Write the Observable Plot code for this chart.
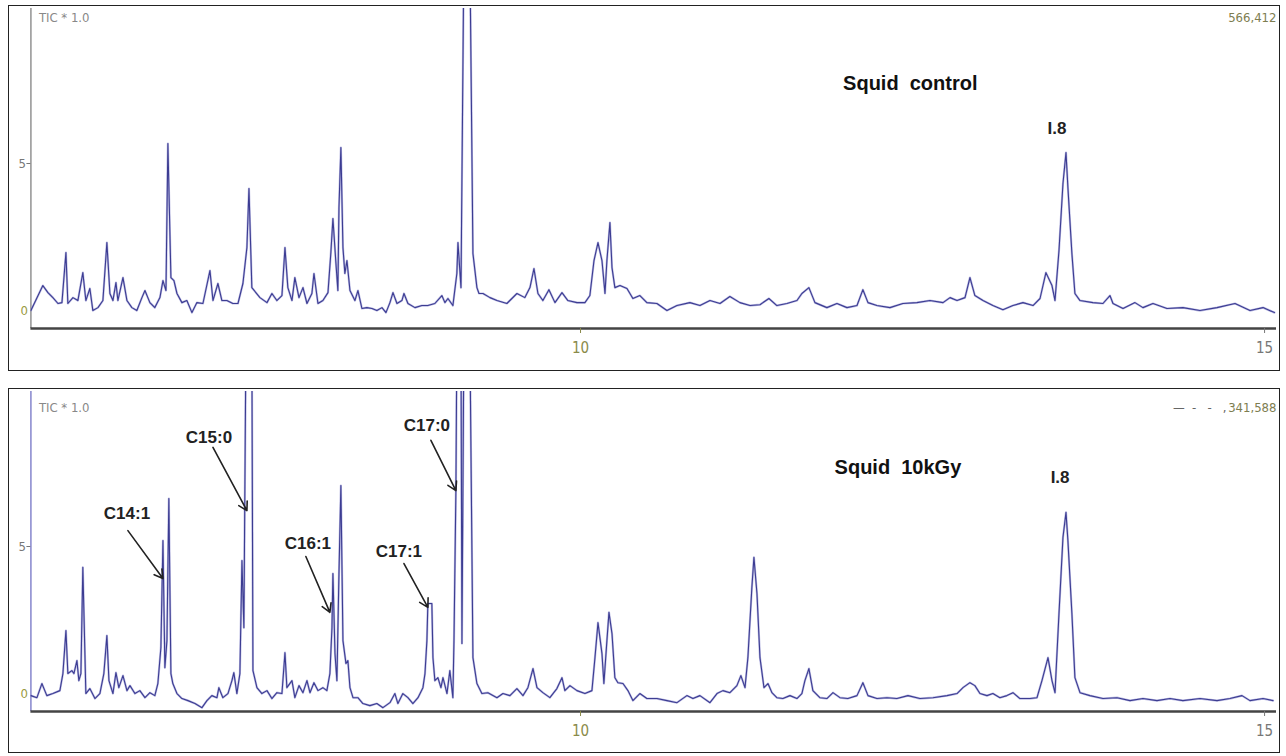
<!DOCTYPE html>
<html><head><meta charset="utf-8">
<script src="https://cdn.jsdelivr.net/npm/d3@7"></script>
<script src="https://cdn.jsdelivr.net/npm/@observablehq/plot@0.6"></script>
<style>
body{margin:0;background:#fff;width:1286px;height:756px;position:relative;overflow:hidden;font-family:"Liberation Sans",Arial,sans-serif}
.panel{position:absolute;left:8px;width:1270px;border:1px solid #222;overflow:hidden;background:#fff}
#p1{top:5px;height:364px}
#p2{top:388px;height:363px}
.panel svg{display:block}
</style></head><body>
<div class="panel" id="p1"></div><div class="panel" id="p2"></div>
<script>
// Retention time (min) and TIC intensity
const controlTrace = [
[6.00,0.00],[6.087,0.85],[6.124,0.61],[6.160,0.44],[6.197,0.24],[6.226,0.27],[6.255,1.97],[6.269,0.24],[6.306,0.44],[6.342,0.34],
[6.378,1.29],[6.400,0.34],[6.429,0.75],[6.451,0.00],[6.488,0.10],[6.524,0.34],[6.553,2.31],[6.575,0.58],[6.597,0.34],[6.619,0.95],
[6.633,0.34],[6.670,1.12],[6.699,0.34],[6.735,0.10],[6.771,0.00],[6.808,0.44],[6.830,0.68],[6.866,0.27],[6.902,0.10],[6.939,0.44],
[6.961,1.02],[6.983,0.68],[6.997,5.68],[7.019,1.12],[7.041,1.02],[7.063,0.58],[7.099,0.27],[7.135,0.34],[7.172,-0.07],[7.208,0.27],
[7.252,0.24],[7.303,1.36],[7.325,0.34],[7.361,0.92],[7.390,0.34],[7.426,0.34],[7.470,0.24],[7.507,0.24],[7.543,0.92],[7.572,2.14],
[7.587,4.15],[7.608,0.78],[7.667,0.44],[7.718,0.27],[7.754,0.58],[7.790,0.34],[7.827,0.51],[7.849,2.14],[7.870,0.78],[7.900,0.34],
[7.921,1.12],[7.951,0.44],[7.980,0.78],[8.009,0.24],[8.045,0.58],[8.060,1.26],[8.089,0.24],[8.125,0.34],[8.162,0.61],[8.183,1.97],
[8.198,3.13],[8.220,1.60],[8.234,0.68],[8.242,3.50],[8.256,5.54],[8.271,2.14],[8.285,1.26],[8.300,1.70],[8.322,0.68],[8.358,0.34],
[8.380,0.68],[8.409,0.07],[8.445,0.10],[8.482,0.07],[8.518,0.00],[8.555,0.10],[8.584,-0.07],[8.613,0.27],[8.635,0.61],[8.664,0.24],
[8.700,0.34],[8.715,0.58],[8.744,0.24],[8.795,0.10],[8.846,0.17],[8.889,0.17],[8.940,0.24],[8.991,0.51],[9.013,0.27],[9.035,0.41],
[9.071,0.17],[9.100,1.26],[9.108,2.31],[9.130,0.78],[9.151,12],[9.195,12],[9.217,1.94],[9.246,0.78],[9.261,0.58],[9.290,0.58],
[9.341,0.44],[9.392,0.34],[9.464,0.24],[9.537,0.58],[9.595,0.44],[9.632,0.78],[9.661,1.43],[9.690,0.58],[9.726,0.34],[9.770,0.71],
[9.814,0.27],[9.865,0.61],[9.908,0.34],[9.974,0.27],[10.032,0.27],[10.068,0.51],[10.098,1.70],[10.127,2.31],[10.156,1.70],[10.178,0.58],
[10.192,1.70],[10.214,2.99],[10.229,1.46],[10.250,0.78],[10.287,0.85],[10.338,0.75],[10.381,0.41],[10.432,0.51],[10.483,0.27],[10.556,0.24],
[10.629,0.00],[10.702,0.17],[10.796,0.27],[10.869,0.17],[10.942,0.34],[11.015,0.24],[11.087,0.48],[11.160,0.27],[11.233,0.17],[11.306,0.20],
[11.371,0.41],[11.429,0.17],[11.502,0.24],[11.575,0.34],[11.611,0.58],[11.662,0.78],[11.706,0.27],[11.793,0.10],[11.866,0.24],[11.939,0.10],
[12.012,0.17],[12.055,0.71],[12.092,0.27],[12.157,0.17],[12.252,0.10],[12.346,0.24],[12.448,0.27],[12.543,0.34],[12.638,0.27],[12.689,0.44],
[12.740,0.34],[12.798,0.44],[12.834,1.12],[12.870,0.51],[12.929,0.34],[13.001,0.17],[13.074,0.03],[13.147,0.17],[13.220,0.27],[13.293,0.17],
[13.344,0.41],[13.387,1.29],[13.431,0.85],[13.453,0.34],[13.482,2.04],[13.511,4.32],[13.533,5.37],[13.547,4.18],[13.576,1.94],[13.598,0.58],
[13.635,0.34],[13.729,0.27],[13.802,0.24],[13.853,0.51],[13.875,0.24],[13.948,0.07],[14.035,0.27],[14.093,0.10],[14.166,0.24],[14.268,0.07],
[14.384,0.10],[14.508,0.00],[14.632,0.10],[14.763,0.24],[14.872,0.00],[14.967,0.10],[15.05,-0.07]
];
const irradTrace = [
[6.00,-0.07],[6.044,-0.14],[6.080,0.34],[6.116,-0.07],[6.160,0.00],[6.211,0.10],[6.233,0.68],[6.255,2.14],[6.269,0.68],[6.298,0.78],
[6.313,0.68],[6.335,1.12],[6.349,0.44],[6.364,0.68],[6.378,4.29],[6.400,0.00],[6.429,0.17],[6.466,-0.17],[6.502,0.00],[6.531,0.68],
[6.553,1.97],[6.568,0.44],[6.597,0.00],[6.619,0.71],[6.640,0.20],[6.670,0.61],[6.699,0.10],[6.721,0.27],[6.757,0.00],[6.793,0.10],
[6.830,-0.14],[6.866,0.03],[6.902,-0.07],[6.924,0.34],[6.946,1.56],[6.961,5.20],[6.975,0.88],[6.990,1.80],[7.004,6.63],[7.019,0.68],
[7.033,0.34],[7.063,0.00],[7.099,-0.17],[7.143,-0.24],[7.194,-0.34],[7.245,-0.48],[7.281,-0.24],[7.317,-0.07],[7.354,-0.14],[7.368,0.20],
[7.397,-0.14],[7.434,0.00],[7.463,0.44],[7.477,0.71],[7.499,0.00],[7.521,0.68],[7.536,4.52],[7.550,2.24],[7.565,12],[7.608,12],
[7.616,0.78],[7.645,0.20],[7.681,0.00],[7.718,0.10],[7.754,-0.17],[7.790,0.03],[7.827,0.00],[7.849,1.39],[7.863,0.20],[7.900,0.44],
[7.921,-0.14],[7.951,0.27],[7.980,0.03],[8.009,0.44],[8.031,0.03],[8.060,0.37],[8.089,0.10],[8.125,0.20],[8.154,0.10],[8.176,0.68],
[8.191,2.24],[8.198,4.08],[8.213,1.36],[8.227,0.44],[8.242,4.08],[8.256,7.07],[8.271,1.80],[8.293,1.02],[8.307,1.12],[8.322,0.20],
[8.344,-0.14],[8.380,-0.14],[8.416,-0.34],[8.467,-0.41],[8.518,-0.34],[8.562,-0.48],[8.613,-0.31],[8.649,0.00],[8.671,-0.34],[8.707,0.00],
[8.744,-0.14],[8.780,-0.34],[8.817,-0.14],[8.853,0.20],[8.868,0.68],[8.882,1.80],[8.889,3.06],[8.918,3.06],[8.926,1.22],[8.940,0.44],
[8.962,0.54],[8.984,0.20],[8.999,0.54],[9.028,0.00],[9.049,0.78],[9.071,-0.14],[9.079,1.80],[9.093,6.90],[9.100,12],[9.130,12],
[9.137,1.70],[9.151,12],[9.195,12],[9.217,1.22],[9.246,0.34],[9.282,0.00],[9.326,0.03],[9.392,-0.14],[9.435,0.00],[9.486,-0.07],
[9.537,0.17],[9.581,-0.07],[9.617,0.20],[9.654,0.85],[9.683,0.20],[9.726,0.03],[9.777,-0.14],[9.828,0.17],[9.865,0.54],[9.886,0.10],
[9.923,0.27],[9.974,0.10],[10.032,0.00],[10.083,0.10],[10.105,1.22],[10.127,2.41],[10.156,1.36],[10.170,0.34],[10.192,1.80],[10.207,2.76],
[10.229,2.04],[10.250,0.54],[10.272,0.37],[10.309,0.34],[10.345,0.10],[10.381,-0.24],[10.432,0.00],[10.483,-0.17],[10.556,-0.17],[10.629,-0.24],
[10.702,-0.31],[10.774,-0.07],[10.818,-0.17],[10.869,-0.07],[10.942,-0.31],[10.993,0.00],[11.036,0.10],[11.087,0.03],[11.138,0.27],[11.167,0.61],
[11.197,0.20],[11.218,1.22],[11.247,3.61],[11.262,4.63],[11.284,3.40],[11.306,1.22],[11.335,0.20],[11.364,0.34],[11.393,0.03],[11.429,-0.14],
[11.473,-0.17],[11.524,-0.07],[11.575,-0.17],[11.611,0.00],[11.633,0.44],[11.662,0.85],[11.691,0.10],[11.742,-0.14],[11.793,-0.17],[11.837,0.03],
[11.888,-0.14],[11.946,-0.17],[12.012,-0.07],[12.055,0.37],[12.092,-0.07],[12.157,-0.17],[12.230,-0.14],[12.303,-0.17],[12.383,-0.07],[12.470,-0.17],
[12.565,-0.14],[12.667,-0.07],[12.740,0.00],[12.783,0.20],[12.834,0.37],[12.870,0.27],[12.907,0.00],[12.958,-0.07],[13.001,0.00],[13.052,-0.14],
[13.103,-0.07],[13.147,0.03],[13.198,-0.17],[13.271,-0.17],[13.322,-0.14],[13.358,0.44],[13.402,1.22],[13.431,0.44],[13.453,0.03],[13.482,2.72],
[13.511,5.31],[13.533,6.16],[13.547,5.20],[13.576,2.72],[13.598,0.54],[13.635,0.03],[13.707,-0.07],[13.802,-0.17],[13.904,-0.14],[13.999,-0.24],
[14.093,-0.17],[14.195,-0.24],[14.290,-0.17],[14.384,-0.24],[14.508,-0.17],[14.632,-0.24],[14.726,-0.17],[14.814,-0.07],[14.872,-0.24],[14.967,-0.17],
[15.04,-0.24]
];
const xTicks = [10, 15];
const yTicks = [0, 5];
const xDomain = [6, 15.065];
const yDomain = [-0.61, 10.27];
const scaleLabels = ["TIC * 1.0", "TIC * 1.0"];
const maxCounts = ["566,412", "341,588"];
const countPrefix = ["", "—  -   -   ,"];
const sampleNames = ["Squid  control", "Squid  10kGy"];
const controlPeakLabels = [{name: "I.8", t: 13.467, v: 6.19}];
const irradPeakLabels = [
  {name: "I.8", t: 13.49, v: 7.35},
  {name: "C14:1", t: 6.699, v: 6.12},
  {name: "C15:0", t: 7.296, v: 8.71},
  {name: "C16:1", t: 8.016, v: 5.10},
  {name: "C17:1", t: 8.678, v: 4.83},
  {name: "C17:0", t: 8.882, v: 9.12}
];
const irradArrows = [
  {t1: 6.706, v1: 5.54, t2: 6.961, v2: 3.91},
  {t1: 7.325, v1: 8.37, t2: 7.572, v2: 6.22},
  {t1: 8.001, v1: 4.66, t2: 8.176, v2: 2.76},
  {t1: 8.715, v1: 4.42, t2: 8.889, v2: 2.93},
  {t1: 8.911, v1: 8.61, t2: 9.093, v2: 6.90}
];
const samplePos = [{t: 12.40, v: 7.72}, {t: 12.31, v: 7.69}];

const narrow = "'Liberation Sans Narrow','DejaVu Sans Condensed',sans-serif";
const bold = "'Liberation Sans',Arial,sans-serif";
const intFmt = d => String(d);

function panel(i, trace, peakLabels, arrows, axisColor) {
  return Plot.plot({
    width: 1270, height: 364,
    marginLeft: 21.4, marginRight: 3, marginTop: 2, marginBottom: 42,
    x: {domain: xDomain},
    y: {domain: yDomain},
    style: {background: "transparent", overflow: "visible"},
    marks: [
      Plot.ruleX([xDomain[0]], {stroke: axisColor, strokeWidth: 1.6}),
      Plot.line(trace, {x: d => d[0], y: d => d[1], stroke: "#8686cc", strokeWidth: 2.2, strokeOpacity: 0.55, clip: true}),
      Plot.line(trace, {x: d => d[0], y: d => d[1], stroke: "#3c3c92", strokeWidth: 1.1, clip: true}),
      Plot.ruleY([yDomain[0]], {stroke: "#444", strokeWidth: 2.5}),
      Plot.axisX([xTicks[0]], {tickSize: 5, tickPadding: 9, label: null, fontSize: 15, fontFamily: narrow, color: "#8a8a4a", tickFormat: intFmt}),
      Plot.axisX([xTicks[1]], {tickSize: 5, tickPadding: 9, label: null, fontSize: 15, fontFamily: narrow, color: "#777", tickFormat: intFmt, textAnchor: "middle", dx: -3}),
      Plot.axisY([yTicks[1]], {tickSize: 4, tickPadding: 1, label: null, fontSize: 13, fontFamily: narrow, color: "#777", tickFormat: intFmt}),
      Plot.axisY([yTicks[0]], {tickSize: 0, tickPadding: 3, label: null, fontSize: 13, fontFamily: narrow, color: "#9a9a40", tickFormat: intFmt}),
      Plot.text([scaleLabels[i]], {frameAnchor: "top-left", dx: 8, dy: i === 0 ? 9 : 16, textAnchor: "start", lineAnchor: "middle", fill: "#888", fontSize: 13, fontFamily: narrow}),
      Plot.text([maxCounts[i]], {frameAnchor: "top-right", dx: 0, dy: i === 0 ? 9 : 16, textAnchor: "end", lineAnchor: "middle", fill: "#7d7d50", fontSize: 13, fontFamily: narrow}),
      Plot.text([countPrefix[i]], {frameAnchor: "top-right", dx: -50, dy: 16, textAnchor: "end", lineAnchor: "middle", fill: "#666", fontSize: 13, fontFamily: narrow}),
      Plot.text([sampleNames[i]], {x: samplePos[i].t, y: samplePos[i].v, fontSize: 20, fontWeight: "bold", fontFamily: bold, fill: "#111"}),
      Plot.text(peakLabels, {x: "t", y: "v", text: "name", fontSize: 17, fontWeight: "bold", fontFamily: bold, fill: "#222"}),
      Plot.arrow(arrows, {x1: "t1", y1: "v1", x2: "t2", y2: "v2", stroke: "#222", strokeWidth: 1.6, headLength: 9})
    ]
  });
}

document.getElementById("p1").append(panel(0, controlTrace, controlPeakLabels, [], "#999"));
document.getElementById("p2").append(panel(1, irradTrace, irradPeakLabels, irradArrows, "#8d8dd0"));
</script>
</body></html>
